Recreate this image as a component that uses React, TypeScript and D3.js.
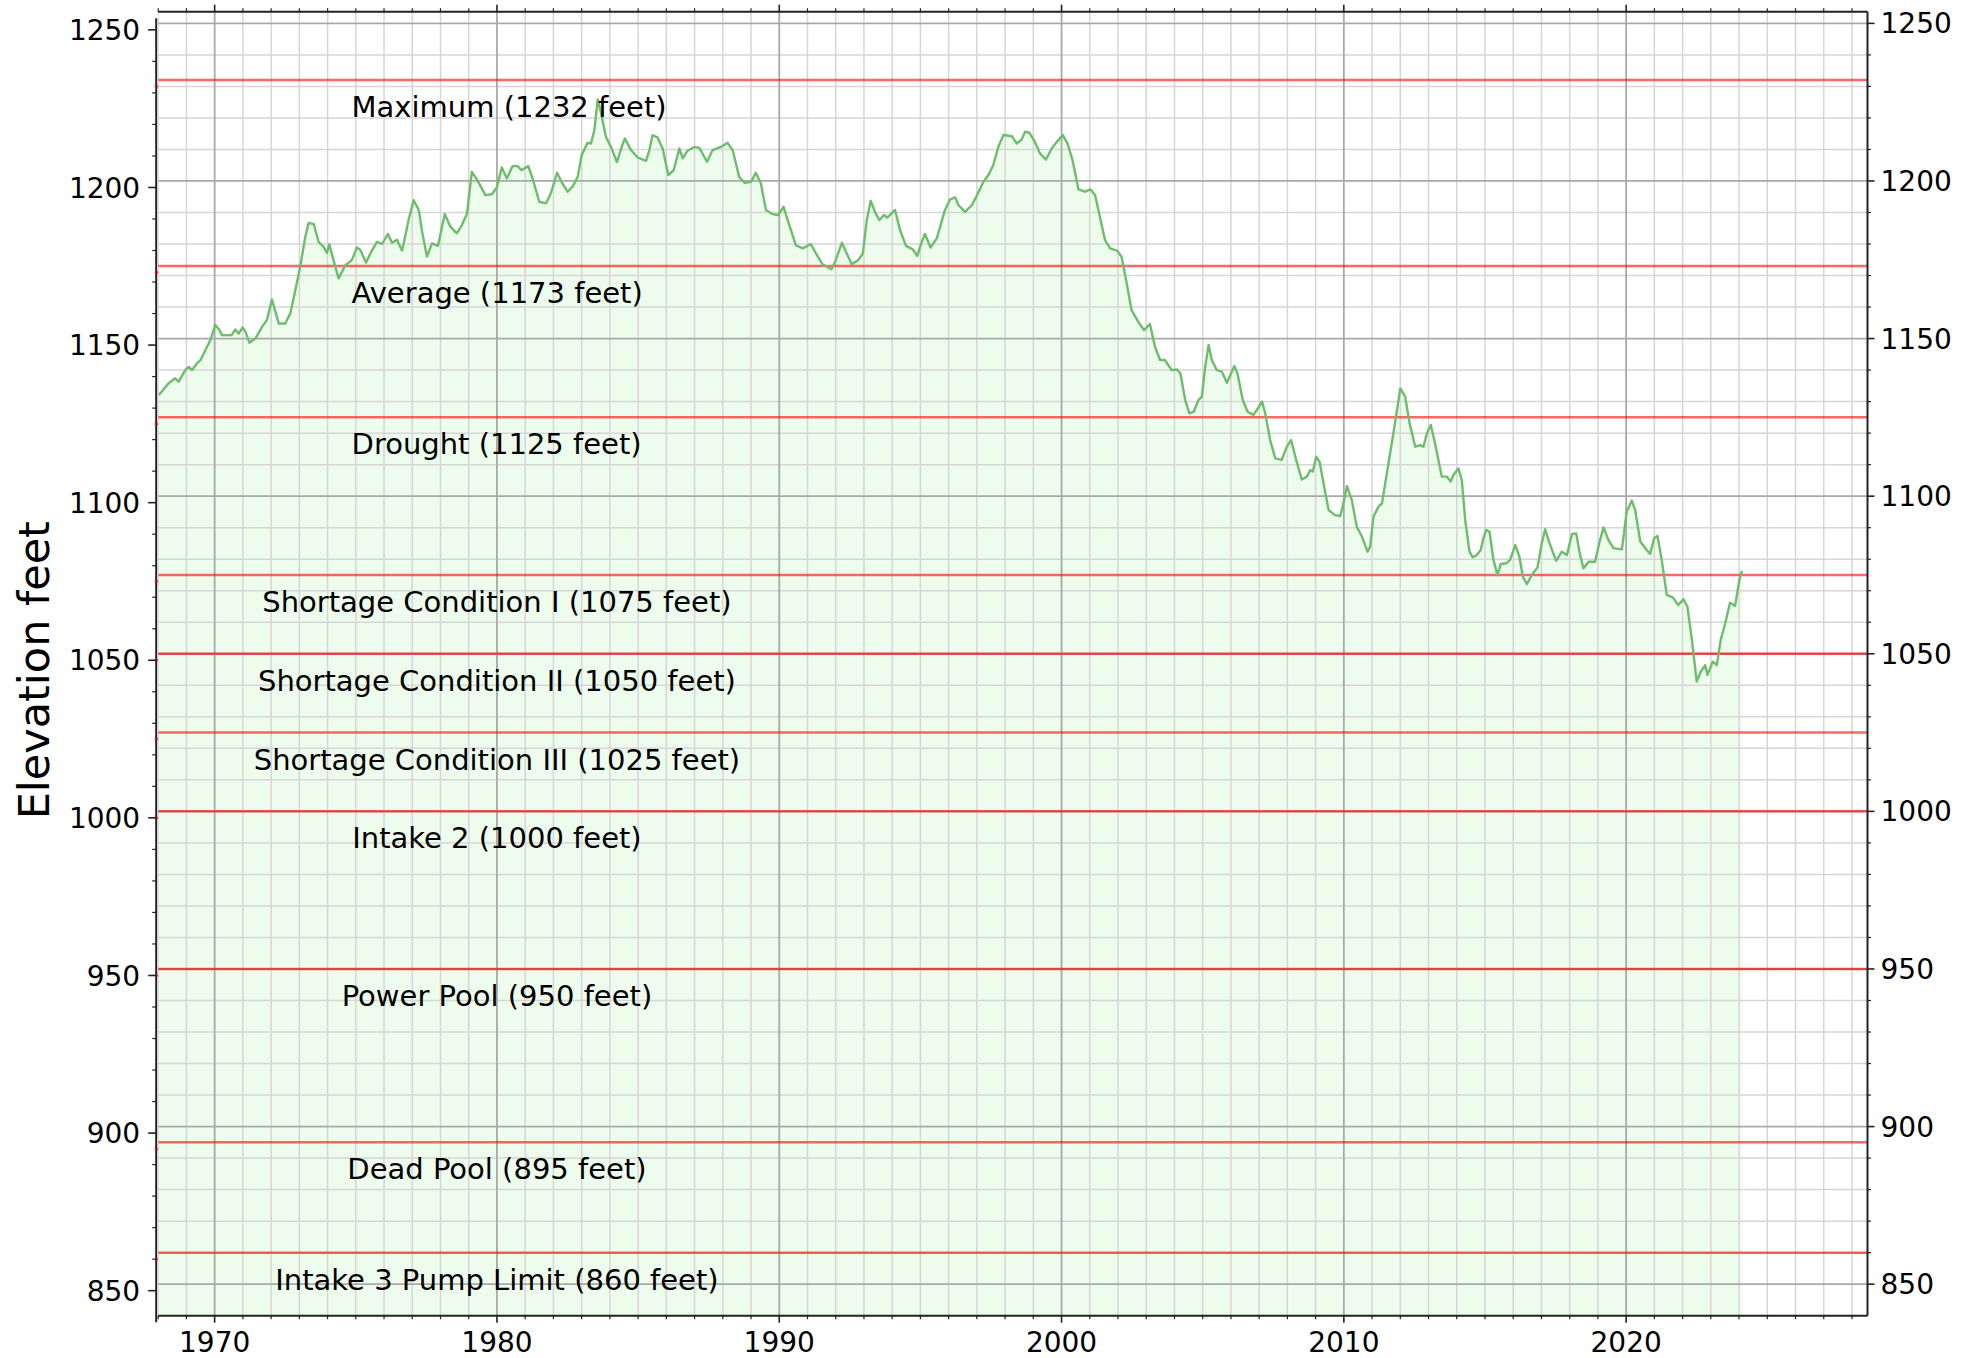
import React from 'react';
import * as d3 from 'd3';

const years = [
  1968.02, 1968.13, 1968.37, 1968.6, 1968.72, 1968.96, 1969.08, 1969.2, 1969.37, 1969.5, 1969.73, 1969.85,
  1970.02, 1970.17, 1970.26, 1970.6, 1970.73, 1970.85, 1970.99, 1971.09, 1971.23, 1971.44, 1971.68, 1971.85,
  1972.03, 1972.17, 1972.27, 1972.5, 1972.68, 1972.86, 1973.04, 1973.21, 1973.33, 1973.51, 1973.68, 1973.86,
  1973.98, 1974.06, 1974.21, 1974.39, 1974.63, 1974.86, 1975.04, 1975.16, 1975.36, 1975.55, 1975.75, 1975.93,
  1976.14, 1976.28, 1976.46, 1976.64, 1976.87, 1977.05, 1977.23, 1977.34, 1977.52, 1977.7, 1977.91, 1978.15,
  1978.35, 1978.58, 1978.76, 1978.94, 1979.11, 1979.29, 1979.59, 1979.82,
  1980.0, 1980.17, 1980.35, 1980.55, 1980.73, 1980.87, 1980.97, 1981.11, 1981.26, 1981.5, 1981.74, 1981.91,
  1982.13, 1982.29, 1982.5, 1982.68, 1982.86, 1983.0, 1983.21, 1983.33, 1983.45, 1983.57, 1983.68, 1983.86,
  1984.04, 1984.25, 1984.42, 1984.53, 1984.75, 1984.98, 1985.28, 1985.4, 1985.51, 1985.69, 1985.87, 1986.07,
  1986.26, 1986.46, 1986.58, 1986.75, 1986.99, 1987.17, 1987.44, 1987.64, 1987.93, 1988.17, 1988.35, 1988.58,
  1988.78, 1989.0, 1989.17, 1989.35, 1989.53, 1989.76, 1989.96, 1990.15, 1990.3, 1990.59, 1990.83, 1991.12,
  1991.3, 1991.53, 1991.85,
  1991.98, 1992.22, 1992.39, 1992.57, 1992.8, 1992.96, 1993.1, 1993.24, 1993.39, 1993.55, 1993.71, 1993.83,
  1994.1, 1994.28, 1994.49, 1994.73, 1994.89, 1995.01, 1995.16, 1995.36, 1995.58, 1995.87, 1996.05, 1996.23,
  1996.35, 1996.58, 1996.82, 1996.99, 1997.23, 1997.41, 1997.58, 1997.76, 1997.94, 1998.24, 1998.41, 1998.59,
  1998.71, 1998.86, 1999.03, 1999.24, 1999.45, 1999.65, 1999.83, 2000.04, 2000.21, 2000.39, 2000.6, 2000.83,
  2001.03, 2001.19, 2001.36, 2001.54, 2001.72, 2001.98, 2002.13, 2002.31, 2002.48, 2002.72, 2002.92, 2003.13,
  2003.31, 2003.49, 2003.66, 2003.9, 2004.08,
  2004.21, 2004.38, 2004.53, 2004.68, 2004.85, 2004.97, 2005.09, 2005.21, 2005.32, 2005.5, 2005.68, 2005.86,
  2006.12, 2006.23, 2006.42, 2006.59, 2006.8, 2006.98, 2007.1, 2007.21, 2007.39, 2007.57, 2007.8, 2007.98,
  2008.13, 2008.31, 2008.51, 2008.69, 2008.81, 2008.9, 2009.02, 2009.14, 2009.28, 2009.46, 2009.69, 2009.87,
  2009.96, 2010.11, 2010.28, 2010.46, 2010.64, 2010.84, 2010.93, 2011.05, 2011.23, 2011.35, 2011.64, 2011.82,
  2012.0, 2012.17, 2012.33, 2012.53, 2012.7, 2012.82, 2012.94, 2013.08, 2013.23, 2013.47, 2013.65, 2013.79,
  2013.88, 2014.06, 2014.18,
  2014.3, 2014.45, 2014.57, 2014.71, 2014.85, 2014.94, 2015.04, 2015.16, 2015.3, 2015.44, 2015.56, 2015.75,
  2015.89, 2016.07, 2016.22, 2016.34, 2016.48, 2016.66, 2016.86, 2017.01, 2017.13, 2017.31, 2017.52, 2017.72,
  2017.9, 2018.08, 2018.23, 2018.37, 2018.49, 2018.67, 2018.9, 2019.06, 2019.2, 2019.37, 2019.55, 2019.85,
  2020.02, 2020.2, 2020.32, 2020.5, 2020.73, 2020.85, 2020.99, 2021.11, 2021.26, 2021.44, 2021.65, 2021.85,
  2022.03, 2022.17, 2022.33, 2022.5, 2022.64, 2022.8, 2022.88, 2023.07, 2023.21, 2023.35, 2023.51, 2023.68,
  2023.86, 2024.01, 2024.1,
];

const elevations = [
  1132.1, 1133.2, 1135.8, 1137.4, 1136.3, 1140.0, 1141.0, 1140.0, 1142.1, 1143.2, 1147.4, 1149.5,
  1154.3, 1152.7, 1151.1, 1151.1, 1152.9, 1151.6, 1153.5, 1152.2, 1148.7, 1150.0, 1153.7, 1155.9,
  1162.4, 1158.0, 1154.8, 1154.8, 1158.0, 1165.4, 1173.3, 1182.3, 1186.7, 1186.3, 1180.7, 1179.1,
  1177.2, 1179.9, 1174.9, 1169.1, 1173.3, 1174.9, 1178.9, 1178.1, 1174.1, 1177.6, 1180.7, 1180.0,
  1183.2, 1180.4, 1181.3, 1177.9, 1187.6, 1193.9, 1190.8, 1184.4, 1176.0, 1180.2, 1179.4, 1189.5,
  1185.5, 1183.4, 1186.0, 1189.7, 1202.9, 1200.5, 1195.5, 1195.8,
  1198.0, 1204.3, 1200.8, 1204.7, 1204.7, 1203.4, 1204.0, 1204.7, 1200.8, 1193.4, 1192.9, 1196.1,
  1202.6, 1199.7, 1196.6, 1198.2, 1201.3, 1208.2, 1212.1, 1211.9, 1216.1, 1225.9, 1221.9, 1214.0,
  1210.8, 1206.0, 1210.8, 1213.5, 1209.8, 1207.5, 1206.4, 1209.8, 1214.5, 1213.8, 1210.3, 1201.9,
  1203.4, 1210.3, 1207.2, 1209.6, 1210.8, 1210.5, 1206.1, 1209.8, 1210.8, 1212.1, 1209.8, 1201.3,
  1199.4, 1199.7, 1202.6, 1199.2, 1190.8, 1189.5, 1189.2, 1191.8, 1187.6, 1179.6, 1178.6, 1180.0,
  1177.0, 1173.6, 1172.0,
  1174.4, 1180.4, 1177.0, 1173.6, 1174.9, 1177.0, 1187.6, 1193.7, 1190.2, 1187.6, 1189.2, 1188.4,
  1190.8, 1184.4, 1179.4, 1178.3, 1176.2, 1179.7, 1183.2, 1178.9, 1181.8, 1190.8, 1194.1, 1194.8,
  1192.3, 1190.2, 1192.3, 1195.2, 1199.7, 1201.9, 1205.0, 1210.8, 1214.6, 1214.2, 1211.9, 1213.2,
  1215.6, 1215.3, 1212.8, 1208.7, 1206.8, 1210.3, 1212.4, 1214.6, 1211.9, 1206.6, 1197.3, 1196.6,
  1197.3, 1195.5, 1188.6, 1181.2, 1178.6, 1177.8, 1175.9, 1167.5, 1159.0, 1155.3, 1152.7, 1154.6,
  1147.4, 1143.2, 1143.2, 1140.0, 1140.2,
  1139.0, 1130.5, 1126.3, 1126.8, 1130.5, 1131.6, 1141.1, 1148.0, 1143.2, 1140.0, 1139.5, 1136.0,
  1141.3, 1139.0, 1130.5, 1126.8, 1125.8, 1128.2, 1130.0, 1126.5, 1117.8, 1112.0, 1111.5, 1115.7,
  1117.8, 1111.5, 1105.3, 1106.2, 1108.3, 1107.8, 1112.5, 1110.9, 1104.1, 1095.6, 1094.0, 1093.7,
  1096.7, 1103.2, 1098.8, 1090.3, 1087.2, 1082.4, 1084.0, 1093.5, 1096.7, 1097.7, 1113.6, 1123.6,
  1134.2, 1131.6, 1123.1, 1115.7, 1116.2, 1115.7, 1119.9, 1122.6, 1116.8, 1106.2, 1106.2, 1104.6,
  1106.7, 1108.8, 1105.1,
  1092.4, 1082.4, 1080.6, 1081.3, 1082.9, 1086.6, 1089.3, 1088.7, 1079.8, 1075.0, 1078.5, 1078.7,
  1079.8, 1084.5, 1080.8, 1074.5, 1072.1, 1075.0, 1077.4, 1085.0, 1089.5, 1084.5, 1079.5, 1082.4,
  1081.3, 1088.0, 1088.2, 1081.3, 1077.1, 1079.2, 1079.2, 1085.6, 1090.1, 1086.1, 1083.5, 1083.1,
  1095.1, 1098.6, 1095.6, 1085.6, 1082.9, 1081.7, 1086.6, 1087.4, 1079.8, 1068.7, 1067.9, 1065.5,
  1067.3, 1065.0, 1054.4, 1041.2, 1044.3, 1046.4, 1043.3, 1047.5, 1046.4, 1054.4, 1059.7, 1066.2,
  1065.2, 1073.4, 1076.3,
];

const levelValues = [1232, 1173, 1125, 1075, 1050, 1025, 1000, 950, 895, 860];
const levelLabels = [
  'Maximum (1232 feet)',
  'Average (1173 feet)',
  'Drought (1125 feet)',
  'Shortage Condition I (1075 feet)',
  'Shortage Condition II (1050 feet)',
  'Shortage Condition III (1025 feet)',
  'Intake 2 (1000 feet)',
  'Power Pool (950 feet)',
  'Dead Pool (895 feet)',
  'Intake 3 Pump Limit (860 feet)',
];
const labelAnchorYears = [1974.85, 1974.85, 1974.85, 1980, 1980, 1980, 1980, 1980, 1980, 1980];
const labelAligns = ['start', 'start', 'start', 'middle', 'middle', 'middle', 'middle', 'middle', 'middle', 'middle'];

const xMajorTicks = [1970, 1980, 1990, 2000, 2010, 2020];
const yMajorTicks = [850, 900, 950, 1000, 1050, 1100, 1150, 1200, 1250];

const FONT = 'DejaVu Sans';

export default function App() {
  const W = 1978;
  const H = 1358;
  const left = 158.2;
  const right = 1867.5;
  const top = 11.7;
  const bottom = 1315.7;
  const shift = 6.5;

  const x = d3.scaleLinear().domain([1968, 2028.55]).range([left, right]);
  const y = d3.scaleLinear().domain([840, 1253.7]).range([bottom, top]);
  const yL = d3.scaleLinear().domain([840, 1253.7]).range([bottom + shift, top + shift]);

  const data = years.map((yr, i) => ({ yr, v: elevations[i] }));
  const line = d3.line<any>().x((d) => x(d.yr)).y((d) => y(d.v));
  const area = d3.area<any>().x((d) => x(d.yr)).y0(y(840)).y1((d) => y(d.v));

  const xMinor = d3.range(1968, 2029).filter((v) => v % 10 !== 0);
  const yMinor = d3.range(840, 1251, 10).filter((v) => v % 50 !== 0);
  const yAllMinor = d3.range(850, 1251, 10).filter((v) => v % 50 !== 0);

  return (
    <svg width={W} height={H} style={{ position: 'absolute', left: 0, top: 0, background: '#fff' }} fontFamily={FONT}>
      <defs>
        <clipPath id="plot">
          <rect x={left} y={top} width={right - left} height={bottom - top} />
        </clipPath>
      </defs>
      <rect x={0} y={0} width={W} height={H} fill="#fff" />
      <g clipPath="url(#plot)">
        <path d={area(data) || ''} fill="#edfced" />
        {xMinor.map((v) => (
          <line key={'xm' + v} x1={x(v)} x2={x(v)} y1={top} y2={bottom} stroke="#d6d6d6" strokeWidth={1.5} />
        ))}
        {yMinor.map((v) => (
          <line key={'ym' + v} x1={left} x2={right} y1={y(v)} y2={y(v)} stroke="#d6d6d6" strokeWidth={1.5} />
        ))}
        {xMajorTicks.map((v) => (
          <line key={'xM' + v} x1={x(v)} x2={x(v)} y1={top} y2={bottom} stroke="#a9a9a9" strokeWidth={1.8} />
        ))}
        {yMajorTicks.map((v) => (
          <line key={'yM' + v} x1={left} x2={right} y1={y(v)} y2={y(v)} stroke="#a9a9a9" strokeWidth={1.8} />
        ))}
        {levelValues.map((v) => (
          <line key={'lv' + v} x1={left} x2={right} y1={y(v)} y2={y(v)} stroke="#ff0000" strokeOpacity={0.6} strokeWidth={2.5} />
        ))}
        <path d={line(data) || ''} fill="none" stroke="#6dbd6d" strokeWidth={2.4} strokeLinejoin="round" />
      </g>

      {levelLabels.map((t, i) => (
        <text
          key={t}
          x={x(labelAnchorYears[i])}
          y={y(levelValues[i]) + 37}
          textAnchor={labelAligns[i] as any}
          fontSize={29}
          fill="#000"
        >
          {t}
        </text>
      ))}

      {/* frame */}
      <line x1={left} x2={right} y1={top} y2={top} stroke="#222" strokeWidth={2} />
      <line x1={left} x2={right} y1={bottom} y2={bottom} stroke="#222" strokeWidth={2} />
      <line x1={right} x2={right} y1={top} y2={bottom} stroke="#222" strokeWidth={2} />

      {/* top / bottom ticks */}
      {xMajorTicks.map((v) => (
        <g key={'xt' + v}>
          <line x1={x(v)} x2={x(v)} y1={top} y2={top - 7} stroke="#222" strokeWidth={1.6} />
          <line x1={x(v)} x2={x(v)} y1={bottom} y2={bottom + 7} stroke="#222" strokeWidth={1.6} />
          <text x={x(v)} y={bottom + 36} textAnchor="middle" fontSize={28} fill="#000">
            {v}
          </text>
        </g>
      ))}
      {xMinor.map((v) => (
        <g key={'xmt' + v}>
          <line x1={x(v)} x2={x(v)} y1={top} y2={top - 3.5} stroke="#222" strokeWidth={1.2} />
          <line x1={x(v)} x2={x(v)} y1={bottom} y2={bottom + 3.5} stroke="#222" strokeWidth={1.2} />
        </g>
      ))}

      {/* left axis (shifted twin) */}
      <line x1={left - 2} x2={left - 2} y1={top + shift} y2={bottom + shift} stroke="#222" strokeWidth={2} />
      {levelValues.map((v) => (
        <line key={'lr' + v} x1={left - 3.5} x2={left} y1={yL(v)} y2={yL(v)} stroke="#ff0000" strokeOpacity={0.6} strokeWidth={2.5} />
      ))}
      {yMajorTicks.map((v) => (
        <g key={'yl' + v}>
          <line x1={left - 2} x2={left - 10} y1={yL(v)} y2={yL(v)} stroke="#222" strokeWidth={1.6} />
          <text x={left - 18} y={yL(v)} dy="0.36em" textAnchor="end" fontSize={28} fill="#000">
            {v}
          </text>
        </g>
      ))}
      {yAllMinor.map((v) => (
        <line key={'ylm' + v} x1={left - 2} x2={left - 6} y1={yL(v)} y2={yL(v)} stroke="#222" strokeWidth={1.2} />
      ))}

      {/* right axis */}
      {yMajorTicks.map((v) => (
        <g key={'yr' + v}>
          <line x1={right} x2={right + 7} y1={y(v)} y2={y(v)} stroke="#222" strokeWidth={1.6} />
          <text x={right + 13} y={y(v)} dy="0.36em" textAnchor="start" fontSize={28} fill="#000">
            {v}
          </text>
        </g>
      ))}
      {yAllMinor.map((v) => (
        <line key={'yrm' + v} x1={right} x2={right + 3.5} y1={y(v)} y2={y(v)} stroke="#222" strokeWidth={1.2} />
      ))}

      <text
        transform={`translate(49, ${(top + bottom) / 2 + shift}) rotate(-90)`}
        textAnchor="middle"
        fontSize={43}
        fill="#000"
      >
        Elevation feet
      </text>
    </svg>
  );
}
